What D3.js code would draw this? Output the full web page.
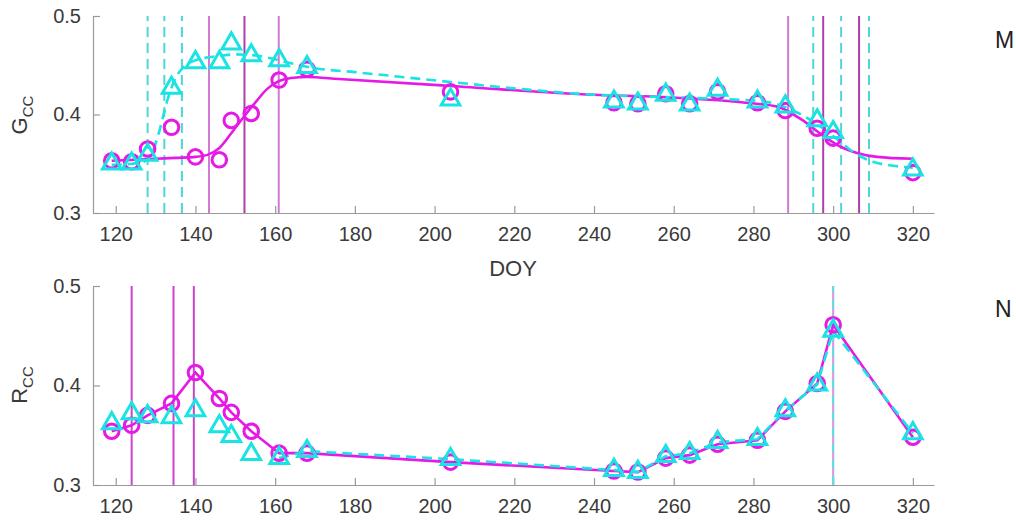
<!DOCTYPE html>
<html>
<head>
<meta charset="utf-8">
<script src="https://cdn.jsdelivr.net/npm/d3@7"></script>
<style>
  body { margin: 0; background: #fff; }
  svg { font-family: "Liberation Sans", Arial, sans-serif; }
  .axis path, .axis line { stroke: #9a9a9a; stroke-width: 1.2; }
  .axis text { fill: #3a3a3a; font-size: 20px; }
</style>
</head>
<body>
<div id="chart"></div>
<script>
(function () {

  // observation dates (day of year)
  var doy = [119, 124, 128, 134, 140, 146, 149, 154, 161, 168, 204, 245, 251, 258, 264, 271, 281, 288, 296, 300, 320]

  // top panel - G_CC
  var gccCircle = [0.353, 0.352, 0.365, 0.387, 0.357, 0.354, 0.394, 0.401, 0.435, 0.446, 0.423, 0.412, 0.411, 0.421, 0.411, 0.423, 0.412, 0.404, 0.386, 0.376, 0.341]
  var gccTriangle = [0.350, 0.350, 0.359, 0.427, 0.453, 0.453, 0.472, 0.460, 0.455, 0.448, 0.415, 0.413, 0.411, 0.420, 0.410, 0.425, 0.413, 0.408, 0.394, 0.382, 0.344]

  // fitted curves
  var gccFitMagentaDoy = [119, 125, 130, 135, 140, 143, 146, 149, 152, 155, 158, 161, 164, 168, 176, 204, 240, 256, 269, 278, 286, 292, 298, 302, 306, 311, 320]
  var gccFitMagenta = [0.353, 0.354, 0.355, 0.356, 0.357, 0.359, 0.366, 0.381, 0.397, 0.412, 0.426, 0.434, 0.437, 0.438, 0.436, 0.429, 0.420, 0.418, 0.415, 0.412, 0.408, 0.395, 0.377, 0.367, 0.361, 0.357, 0.355]
  var gccFitCyanDoy = [119, 124, 127, 129, 131, 133, 135, 137, 140, 145, 150, 155, 160, 165, 170, 180, 204, 224, 240, 255, 270, 283, 290, 296, 301, 305, 310, 315, 320]
  var gccFitCyan = [0.349, 0.350, 0.352, 0.360, 0.384, 0.415, 0.437, 0.448, 0.455, 0.459, 0.461, 0.460, 0.456, 0.451, 0.447, 0.443, 0.433, 0.425, 0.420, 0.418, 0.416, 0.413, 0.404, 0.390, 0.375, 0.362, 0.352, 0.348, 0.346]

  // transition dates, top panel
  var gccCyanDates = [128, 132.2, 136.6, 295, 302, 309]
  var gccMagentaLightDates = [143.4, 160.9, 288.7]
  var gccMagentaDarkDates = [152.3, 297.5, 306.5]

  // bottom panel - R_CC
  var rccCircle = [0.354, 0.360, 0.370, 0.382, 0.413, 0.387, 0.373, 0.354, 0.332, 0.332, 0.323, 0.314, 0.313, 0.327, 0.330, 0.341, 0.345, 0.374, 0.402, 0.461, 0.348]
  var rccTriangle = [0.362, 0.372, 0.369, 0.368, 0.375, 0.359, 0.349, 0.331, 0.327, 0.334, 0.326, 0.315, 0.313, 0.329, 0.332, 0.343, 0.346, 0.375, 0.401, 0.455, 0.352]

  // transition dates, bottom panel
  var rccMagentaDates = [124, 134.5, 139.6]
  var rccPeakDates = [300]

  var xTicks = [120, 140, 160, 180, 200, 220, 240, 260, 280, 300, 320]
  var yTicks = [0.3, 0.4, 0.5]

  var magenta = '#e619e6', cyan = '#19e3e3'

  var svg = d3.select('#chart').append('svg')
    .attr('width', 1016)
    .attr('height', 520)

  var xScale = d3.scaleLinear()
    .domain([114.3, 325.3])
    .range([93, 934])

  function drawPanel(top, bottom, label, letter) {
    var yScale = d3.scaleLinear().domain([0.3, 0.5]).range([bottom, top])
    var g = svg.append('g')
    return { g: g, y: yScale, label: label, letter: letter }
  }

  function axes(p, bottom) {
    p.g.append('g')
      .attr('class', 'axis')
      .attr('transform', 'translate(0,' + bottom + ')')
      .call(d3.axisBottom(xScale).tickValues(xTicks).tickSizeInner(-7).tickSizeOuter(0).tickPadding(14))
    p.g.append('g')
      .attr('class', 'axis')
      .attr('transform', 'translate(93,0)')
      .call(d3.axisLeft(p.y).tickValues(yTicks).tickFormat(d3.format('.1f')).tickSizeInner(-7).tickSizeOuter(0).tickPadding(12))
    p.g.selectAll('.axis text').attr('fill', '#3a3a3a')
  }

  function vlines(p, dates, color, dash, width) {
    p.g.selectAll(null)
      .data(dates)
      .join('line')
      .attr('x1', d => xScale(d))
      .attr('x2', d => xScale(d))
      .attr('y1', p.y(0.3))
      .attr('y2', p.y(0.5))
      .attr('stroke', color)
      .attr('stroke-width', width)
      .attr('stroke-dasharray', dash)
  }

  function curve(p, xs, ys, color, dash, kind) {
    var pts = xs.map((d, i) => [d, ys[i]])
    var line = d3.line()
      .x(d => xScale(d[0]))
      .y(d => p.y(d[1]))
      .curve(kind)
    p.g.append('path')
      .datum(pts)
      .attr('d', line)
      .attr('fill', 'none')
      .attr('stroke', color)
      .attr('stroke-width', 2.6)
      .attr('stroke-dasharray', dash)
  }

  function circles(p, vals) {
    p.g.selectAll(null)
      .data(doy.map((d, i) => [d, vals[i]]))
      .join('circle')
      .attr('cx', d => xScale(d[0]))
      .attr('cy', d => p.y(d[1]))
      .attr('r', 7.3)
      .attr('fill', 'none')
      .attr('stroke', magenta)
      .attr('stroke-width', 3)
  }

  function triangles(p, vals) {
    var sym = d3.symbol().type(d3.symbolTriangle).size(150)
    p.g.selectAll(null)
      .data(doy.map((d, i) => [d, vals[i]]))
      .join('path')
      .attr('d', sym)
      .attr('transform', d => 'translate(' + xScale(d[0]) + ',' + p.y(d[1]) + ')')
      .attr('fill', 'none')
      .attr('stroke', cyan)
      .attr('stroke-width', 3)
  }

  function labels(p, ylabX, yMid, letterY) {
    var t = p.g.append('text')
      .attr('transform', 'translate(' + ylabX + ',' + yMid + ') rotate(-90)')
      .attr('text-anchor', 'middle')
      .attr('font-size', 22)
      .attr('fill', '#3a3a3a')
    t.append('tspan').text(p.label)
    t.append('tspan').text('CC').attr('font-size', 15).attr('dy', 6)
    p.g.append('text')
      .attr('x', 995)
      .attr('y', letterY)
      .attr('font-size', 23)
      .attr('fill', '#222')
      .text(p.letter)
  }

  // top panel
  var top = drawPanel(16, 213, 'G', 'M')
  axes(top, 213)
  vlines(top, gccMagentaLightDates, '#d27ad6', null, 2)
  vlines(top, gccMagentaDarkDates, '#b03ea8', null, 2)
  vlines(top, gccCyanDates, '#4fd6d6', '10,6', 2)
  curve(top, gccFitMagentaDoy, gccFitMagenta, magenta, null, d3.curveMonotoneX)
  curve(top, gccFitCyanDoy, gccFitCyan, cyan, '10,6', d3.curveMonotoneX)
  circles(top, gccCircle)
  triangles(top, gccTriangle)
  labels(top, 27, 115, 48)

  top.g.append('text')
    .attr('x', 513)
    .attr('y', 276)
    .attr('text-anchor', 'middle')
    .attr('font-size', 22)
    .attr('fill', '#3a3a3a')
    .text('DOY')

  // bottom panel
  var bot = drawPanel(286, 485, 'R', 'N')
  axes(bot, 485)
  vlines(bot, rccMagentaDates, '#cc44cc', null, 2)
  vlines(bot, rccPeakDates, '#e58be5', null, 2)
  vlines(bot, rccPeakDates, '#5fe0e0', '10,6', 2)
  curve(bot, doy, rccCircle, magenta, null, d3.curveLinear)
  curve(bot, doy.slice(8), rccTriangle.slice(8), cyan, '10,6', d3.curveLinear)
  circles(bot, rccCircle)
  triangles(bot, rccTriangle)
  labels(bot, 27, 385, 317)

})();
</script>
</body>
</html>
